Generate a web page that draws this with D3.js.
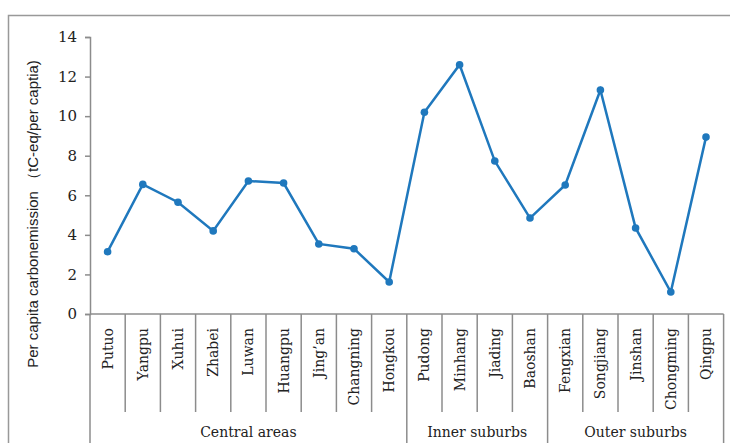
<!DOCTYPE html>
<html>
<head>
<meta charset="utf-8">
<script src="https://cdn.jsdelivr.net/npm/d3@7"></script>
<style>
  body { margin: 0; background: #fff; }
  svg { display: block; }
</style>
</head>
<body>
<div id="chart"></div>
<script>
var districts = ['Putuo', 'Yangpu', 'Xuhui', 'Zhabei', 'Luwan', 'Huangpu', 'Jing\u2019an', 'Changning', 'Hongkou',
  'Pudong', 'Minhang', 'Jiading', 'Baoshan',
  'Fengxian', 'Songjiang', 'Jinshan', 'Chongming', 'Qingpu'];
var emission = [3.15, 6.55, 5.65, 4.2, 6.72, 6.62, 3.54, 3.3, 1.62,
  10.2, 12.6, 7.73, 4.85,
  6.52, 11.32, 4.35, 1.11, 8.94];
var groups = ['Central areas', 'Inner suburbs', 'Outer suburbs'];
var groupSizes = [9, 4, 5];
var yTicks = [0, 2, 4, 6, 8, 10, 12, 14];

var width = 730, height = 443;
var plotLeft = 90, plotRight = 723.6, plotTop = 37, plotBottom = 314;
var grey = '#8c8c8c';
var blue = '#1f78bd';
var serif = 'DejaVu Serif, serif';

var svg = d3.select('#chart').append('svg')
  .attr('width', width)
  .attr('height', height);

// outer frame
svg.append('rect')
  .attr('x', 8.5).attr('y', 15.5)
  .attr('width', width).attr('height', height)
  .attr('fill', 'none')
  .attr('stroke', '#999')
  .attr('stroke-width', 1.5);

var x = d3.scaleBand().domain(districts).range([plotLeft, plotRight]);
var y = d3.scaleLinear().domain([0, 14]).range([plotBottom, plotTop]);

// y axis
var yAxis = svg.append('g')
  .attr('transform', 'translate(' + plotLeft + ',0)')
  .call(d3.axisLeft(y).tickValues(yTicks).tickSize(5).tickPadding(8));
yAxis.select('.domain').attr('stroke', grey).attr('stroke-width', 1.5);
yAxis.selectAll('line').attr('stroke', grey).attr('stroke-width', 1.5);
yAxis.selectAll('text')
  .attr('font-family', serif)
  .attr('font-size', 15)
  .attr('fill', '#222');

// x axis line
svg.append('line')
  .attr('x1', plotLeft).attr('x2', plotRight)
  .attr('y1', plotBottom).attr('y2', plotBottom)
  .attr('stroke', grey).attr('stroke-width', 1.5);

// category dividers
var boundaries = [];
var acc = 0;
groupSizes.forEach(function(n) { boundaries.push(acc); acc += n; });
boundaries.push(acc);

d3.range(districts.length + 1).forEach(function(i) {
  var xx = i < districts.length ? x(districts[i]) : plotRight;
  var full = boundaries.indexOf(i) >= 0;
  svg.append('line')
    .attr('x1', xx).attr('x2', xx)
    .attr('y1', plotBottom).attr('y2', full ? height : 412)
    .attr('stroke', grey).attr('stroke-width', 1.5);
});

// category labels
svg.append('g').selectAll('text')
  .data(districts)
  .enter().append('text')
  .attr('transform', function(d) {
    return 'translate(' + (x(d) + x.bandwidth() / 2 + 5) + ',328) rotate(-90)';
  })
  .attr('text-anchor', 'end')
  .attr('font-family', serif)
  .attr('font-size', 14)
  .attr('fill', '#222')
  .text(function(d) { return d; });

// group labels
svg.append('g').selectAll('text')
  .data(groups)
  .enter().append('text')
  .attr('x', function(d, i) {
    var a = x(districts[boundaries[i]]);
    var b = boundaries[i + 1] < districts.length ? x(districts[boundaries[i + 1]]) : plotRight;
    return (a + b) / 2;
  })
  .attr('y', 437)
  .attr('text-anchor', 'middle')
  .attr('font-family', serif)
  .attr('font-size', 14)
  .attr('fill', '#222')
  .text(function(d) { return d; });

// y title
svg.append('text')
  .attr('transform', 'translate(38,' + ((50 + 378) / 2) + ') rotate(-90)')
  .attr('text-anchor', 'middle')
  .attr('font-family', 'Liberation Sans, Arial, sans-serif')
  .attr('font-size', 15)
  .attr('fill', '#222')
  .text('Per capita carbonemission （tC-eq/per captia)');

// series
var line = d3.line()
  .x(function(d, i) { return x(districts[i]) + x.bandwidth() / 2; })
  .y(function(d) { return y(d); });

svg.append('path')
  .datum(emission)
  .attr('d', line)
  .attr('fill', 'none')
  .attr('stroke', blue)
  .attr('stroke-width', 2.5);

svg.append('g').selectAll('circle')
  .data(emission)
  .enter().append('circle')
  .attr('cx', function(d, i) { return x(districts[i]) + x.bandwidth() / 2; })
  .attr('cy', function(d) { return y(d); })
  .attr('r', 3.8)
  .attr('fill', blue);
</script>
</body>
</html>
